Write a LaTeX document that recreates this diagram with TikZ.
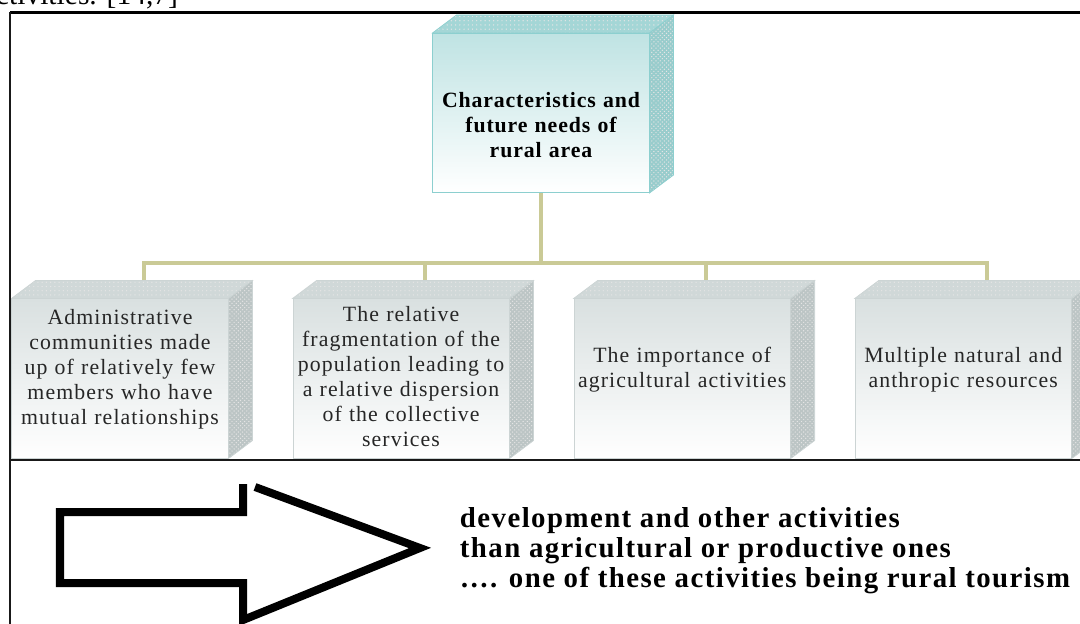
\documentclass[tikz,border=0pt]{standalone}
\usepackage{fontspec}
\setmainfont{Liberation Serif}
\usepackage{xcolor}
\usepackage{tikz}
\usetikzlibrary{calc}
\usetikzlibrary{positioning}
\usetikzlibrary{patterns}

\definecolor{busgold}{HTML}{CACA96}
\definecolor{tealedge}{HTML}{8CCFCF}
\definecolor{tealfront}{HTML}{BFE3E3}
\definecolor{tealtop}{HTML}{A4D6D6}
\definecolor{tealside}{HTML}{98CCCC}
\definecolor{greyedge}{HTML}{CCD4D4}
\definecolor{greyfront}{HTML}{D9E0E0}
\definecolor{greytop}{HTML}{D0D8D8}
\definecolor{greyside}{HTML}{BCC5C5}

\begin{document}
\begin{tikzpicture}[x=0.025cm, y=-0.025cm, node distance = 7.025cm, on grid,
  front/.style ={draw=greyedge, line width=0.7pt, top color=greyfront, bottom color=white,
                 minimum width=5.4cm, minimum height=3.975cm, text width=5.4cm, inner sep=0pt,
                 align=center, text=black!85,
                 font=\fontsize{15.5}{17.8}\selectfont\addfontfeature{LetterSpace=5}},
  lift/.style  ={execute at end node={\endgraf\vspace{#1}}},
  face/.style  ={draw=#1, line width=0.5pt, pattern color=white!80!gray},
  busline/.style ={busgold, line width=2.8pt},
  frameline/.style ={black!90, line width=1.4pt}]
\useasboundingbox (0,0) rectangle (1080,624);
% text cut off by the page top
\node[anchor=base east, font=\fontsize{21}{24}\selectfont] (cite) at (183,5) {activities. [14,7]};
% boxes
\node[front, lift=-17pt, draw=tealedge, top color=tealfront, text=black,
      font=\fontsize{15.5}{17.8}\selectfont\bfseries\addfontfeature{LetterSpace=4}] (top) at (541,113)
  {Characteristics and\\ future needs of\\ rural area};
\node[front, lift=13pt] (b1) at (120,378.5)
  {Administrative\\ communities made\\ up of relatively few\\ members who have\\ mutual relationships};
\node[front, lift=3pt] (b2) [right =of b1]
  {The relative\\ fragmentation of the\\ population leading to\\ a relative dispersion\\ of the collective\\ services};
\node[front, lift=13pt] (b3) [right =of b2] {The importance of\\ agricultural activities};
\node[front, lift=13pt] (b4) [right =of b3] {Multiple natural and\\ anthropic resources};
\foreach \n/\e/\t/\s in {top/tealedge/tealtop/tealside, b1/greyedge/greytop/greyside,
                         b2/greyedge/greytop/greyside, b3/greyedge/greytop/greyside,
                         b4/greyedge/greytop/greyside}{
  \fill[face=\e, preaction={fill=\t}, pattern=dots] (\n.north west) -- ++(24,-18)
     -- ($(\n.north east)+(24,-18)$) -- (\n.north east) -- cycle;
  \fill[face=\e, preaction={fill=\s}, pattern=crosshatch dots] (\n.north east) -- ++(24,-18)
     -- ($(\n.south east)+(24,-18)$) -- (\n.south east) -- cycle;
  \coordinate (\n-back) at ($(\n.north)+(24,-18)$);
}
% connectors
\coordinate (bus) at (0,263);
\draw[busline] (top.south) -- (top.south |- bus);
\draw[busline, line join=miter] (b1-back) -- (b1-back |- bus) -- (b4-back |- bus) -- (b4-back);
\draw[busline] (b2-back |- bus) -- (b2-back);
\draw[busline] (b3-back |- bus) -- (b3-back);
% frame
\draw[black, line width=2pt] (10,12.5) -- (1090,12.5);
\draw[frameline] (10,12) -- (10,640);
\draw[frameline] (10,460) -- (1090,460);
% outline arrow
\draw[black, line width=0.2cm, line join=miter] (255,487) -- (420,548) -- (243,620) -- (243,583)
  -- (60,583) -- (60,512) -- (243,512) -- (243,484);
\node[anchor=west, align=left, font=\fontsize{20.5}{21.3}\selectfont\bfseries\addfontfeature{LetterSpace=5}] (outcome) at (455,551)
  {development and other activities\\ than agricultural or productive ones\\ \dots. one of these activities being rural tourism};
\end{tikzpicture}
\end{document}
